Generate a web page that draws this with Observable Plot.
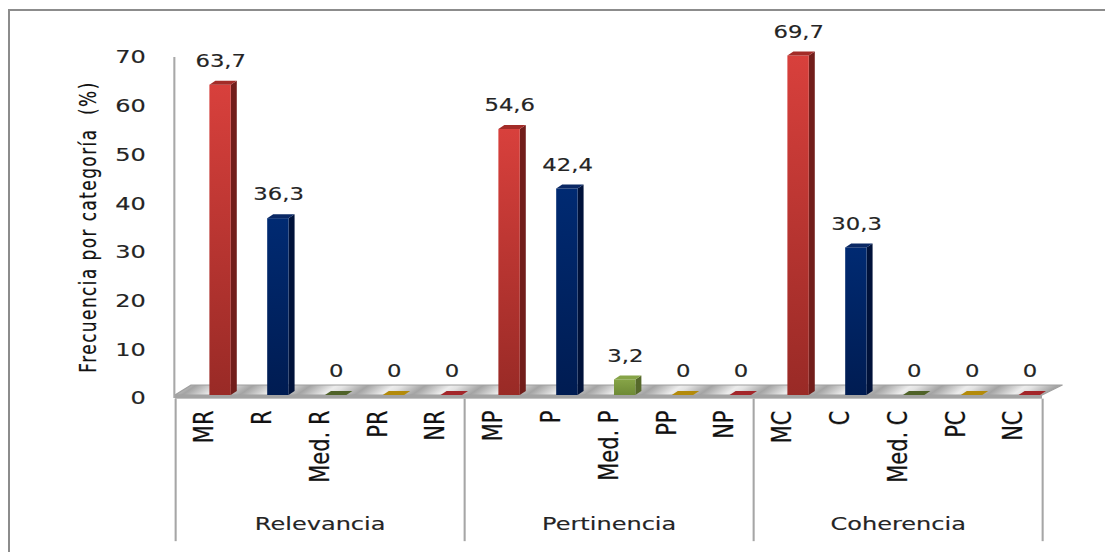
<!DOCTYPE html>
<html>
<head>
<meta charset="utf-8">
<script src="https://cdn.jsdelivr.net/npm/d3@7"></script>
<script src="https://cdn.jsdelivr.net/npm/@observablehq/plot@0.6"></script>
<style>
  html, body { margin: 0; padding: 0; background: #ffffff; overflow: hidden; }
  #frame {
    position: absolute; left: 8px; top: 9px; width: 1200px; height: 700px;
    border-left: 2.5px solid #8c8c8c; border-top: 2.5px solid #8c8c8c;
  }
  #chart { position: absolute; left: 0; top: 0; }
</style>
</head>
<body>
<div id="frame"></div>
<div id="chart"></div>
<script>
// Frequency (%) of each rating category, grouped by criterion
const groups = ["Relevancia", "Pertinencia", "Coherencia"];
const categories = ["MR", "R", "Med. R", "PR", "NR",
                    "MP", "P", "Med. P", "PP", "NP",
                    "MC", "C", "Med. C", "PC", "NC"];
const values = [63.7, 36.3, 0, 0, 0,
                54.6, 42.4, 3.2, 0, 0,
                69.7, 30.3, 0, 0, 0];
const yTicks = [0, 10, 20, 30, 40, 50, 60, 70];
const yTitle = "Frecuencia por categoría \u00a0(%)";

// Colours per rating level (1 = highest ... 5 = lowest)
const levelStyle = [
  {front: "url(#front-red)",   side: "#721e1b", top: "#a32c28", flat: "#a32c28"},
  {front: "url(#front-blue)",  side: "#00123a", top: "#0a2864", flat: "#0a2864"},
  {front: "url(#front-green)", side: "#56692b", top: "#86a447", flat: "#4f6228"},
  {front: "#b8900c",           side: "#8a6c08", top: "#b8900c", flat: "#b38a0a"},
  {front: "#a3262a",           side: "#7a1f1f", top: "#a3262a", flat: "#a3262a"}
];

// The picture is drawn narrower and stretched horizontally
const SX = 1.3;
const W = 1105 / SX;

// Bar geometry within each category band (band units) and 3D depth
const F0 = 0.595, F1 = 0.965;        // front face
const DX = 0.104, DY = 0.82;         // depth offset (x band units, y value units)
const FLOOR_DX = 0.28, FLOOR_DY = 2.05, FLOOR_T = 0.75;

const bars = categories.map((cat, i) => ({
  i, cat, value: values[i], level: i % 5, group: groups[Math.floor(i / 5)]
}));
const shown = bars.filter(d => d.value > 0);

const sidePts = shown.flatMap(d => [
  {id: d.i, x: d.i + F1,      lo: 0,  hi: d.value,      fill: levelStyle[d.level].side},
  {id: d.i, x: d.i + F1 + DX, lo: DY, hi: d.value + DY, fill: levelStyle[d.level].side}
]);
const topPts = bars.flatMap(d => {
  const v = d.value, s = levelStyle[d.level];
  const fill = v > 0 ? s.top : s.flat;
  return [
    {id: d.i, x: d.i + F0,      lo: v,      hi: v,      fill},
    {id: d.i, x: d.i + F0 + DX, lo: v,      hi: v + DY, fill},
    {id: d.i, x: d.i + F1,      lo: v,      hi: v + DY, fill},
    {id: d.i, x: d.i + F1 + DX, lo: v + DY, hi: v + DY, fill}
  ];
});
const n = categories.length;
const floorPts = [
  {x: 0,            lo: 0,        hi: 0},
  {x: FLOOR_DX,     lo: 0,        hi: FLOOR_DY},
  {x: n,            lo: 0,        hi: FLOOR_DY},
  {x: n + FLOOR_DX * 1.25, lo: FLOOR_DY, hi: FLOOR_DY}
];
const groupEdges = d3.range(0, n + 1, 5);
const fmt = v => v === 0 ? "0" : v.toFixed(1).replace(".", ",");

function gradients() {
  const defs = d3.create("svg:defs");
  const add = (id, stops) => {
    const g = defs.append("linearGradient").attr("id", id)
      .attr("x1", 0).attr("y1", 0).attr("x2", 0).attr("y2", 1);
    stops.forEach(([o, c]) => g.append("stop").attr("offset", o).attr("stop-color", c));
  };
  add("front-red",   [[0, "#d8403c"], [1, "#992a26"]]);
  add("front-blue",  [[0, "#002a72"], [1, "#001c52"]]);
  add("front-green", [[0, "#86a447"], [1, "#6e8a36"]]);
  const fl = defs.append("linearGradient").attr("id", "floor")
    .attr("gradientUnits", "userSpaceOnUse").attr("spreadMethod", "repeat")
    .attr("x1", 0).attr("y1", 0).attr("x2", 20).attr("y2", 22);
  [[0, "#a4a4a4"], [0.45, "#ececec"], [0.6, "#e2e2e2"], [1, "#a4a4a4"]]
    .forEach(([o, c]) => fl.append("stop").attr("offset", o).attr("stop-color", c));
  return defs.node();
}

const ink = "#242424";
const chart = Plot.plot({
  width: W,
  height: 552,
  marginLeft: 175 / SX,
  marginRight: (1105 - 1042) / SX,
  marginTop: 54,
  marginBottom: 157,
  x: {domain: [0, n], axis: null},
  y: {domain: [0, 70], axis: null},
  color: {type: "identity"},
  style: {fontFamily: "DejaVu Sans", background: "transparent", overflow: "visible", color: ink},
  marks: [
    gradients,
    // floor
    Plot.area(floorPts, {x1: "x", y1: "lo", y2: "hi", fill: "url(#floor)", stroke: "#a0a0a0", strokeWidth: 1}),
    Plot.rect([0], {x1: 0, x2: n, y1: -FLOOR_T, y2: 0, fill: "#a3a3a3"}),
    // value axis line and category group separators
    Plot.ruleX([0], {y1: 0, y2: 70, dy: 3, dx: -1, stroke: "#a8a8a8", strokeWidth: 1.6}),
    Plot.ruleX(groupEdges, {y1: -FLOOR_T, y2: -30, stroke: "#a6a6a6", strokeWidth: 1.6}),
    // bars
    Plot.area(sidePts, {x1: "x", y1: "lo", y2: "hi", z: "id", fill: "fill"}),
    Plot.rect(shown, {x1: d => d.i + F0, x2: d => d.i + F1, y1: 0, y2: "value",
                      fill: d => levelStyle[d.level].front}),
    Plot.area(topPts, {x1: "x", y1: "lo", y2: "hi", z: "id", fill: "fill"}),
    // value labels
    Plot.text(bars, {x: d => d.i + (F0 + F1) / 2, y: "value", text: d => fmt(d.value),
                     dy: -24, fontSize: 17.5, fill: ink, stroke: ink, strokeWidth: 0.15}),
    // y tick labels
    Plot.text(yTicks, {x: 0, y: d => d, text: d => String(d), textAnchor: "end",
                       dx: -23, dy: 3, fontSize: 18.5, fill: ink, stroke: ink, strokeWidth: 0.15}),
    // category labels
    Plot.text(bars, {x: d => d.i + 0.5, y: 0, text: "cat", rotate: -90, textAnchor: "end",
                     dy: 15, fontSize: 21, fill: "#111111", stroke: "#111111", strokeWidth: 0.2}),
    // group labels
    Plot.text(groups, {x: (d, k) => k * 5 + 2.5, y: 0, text: d => d, dy: 129,
                       fontSize: 18.5, fill: ink, stroke: ink, strokeWidth: 0.15}),
    // value axis title
    Plot.text([yTitle], {frameAnchor: "left", rotate: -90, textAnchor: "middle",
                         dx: -67, dy: 2, fontSize: 17, fill: "#111111", stroke: "#111111", strokeWidth: 0.15})
  ]
});

chart.style.transform = `scaleX(${SX})`;
chart.style.transformOrigin = "0 0";
d3.select(chart).selectAll("text")
  .filter(function () { return this.textContent.startsWith("Frecuencia"); })
  .attr("letter-spacing", 1.4);
document.getElementById("chart").appendChild(chart);
</script>
</body>
</html>
